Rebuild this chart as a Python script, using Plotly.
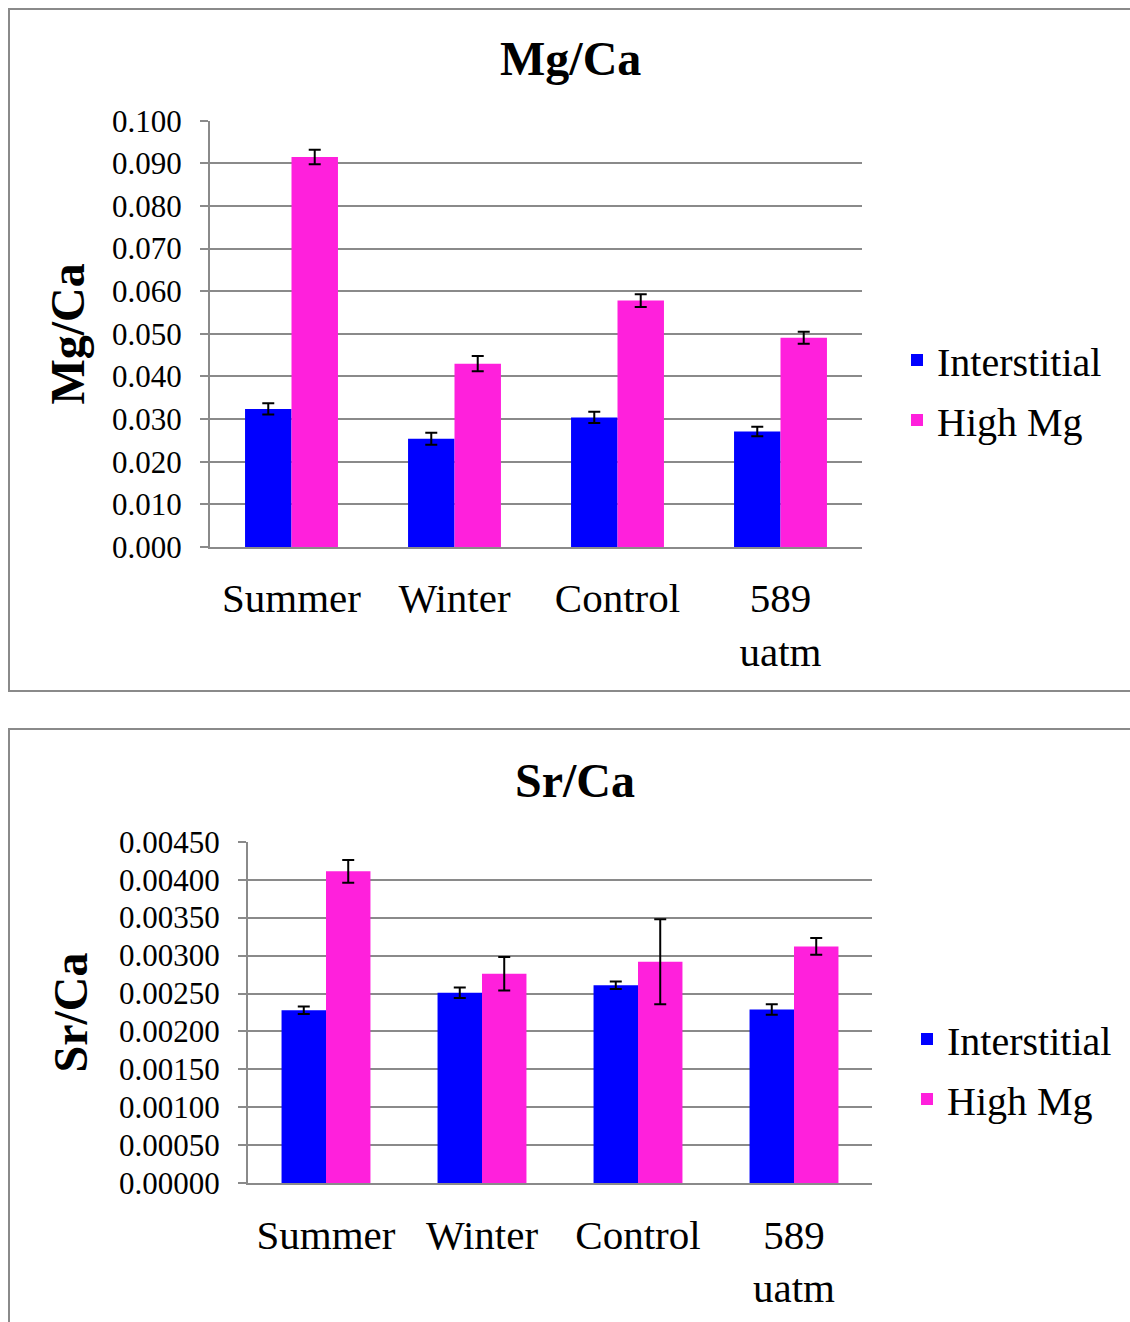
import plotly.graph_objects as go

categories = ["Summer", "Winter", "Control", "589<br>uatm"]
series_names = ["Interstitial", "High Mg"]

mg_interstitial = [0.0324, 0.0254, 0.0304, 0.0271]
mg_interstitial_err = [0.0013, 0.0014, 0.0013, 0.0011]
mg_highmg = [0.0915, 0.0430, 0.0578, 0.0491]
mg_highmg_err = [0.0017, 0.0018, 0.0015, 0.0014]

sr_interstitial = [0.00228, 0.00251, 0.00261, 0.00229]
sr_interstitial_err = [0.00005, 0.00007, 0.00005, 0.00007]
sr_highmg = [0.00411, 0.00276, 0.00292, 0.00312]
sr_highmg_err = [0.00015, 0.00022, 0.00056, 0.00011]

BLUE = "#0000FF"
MAGENTA = "#FF20DC"
GRID = "#8a8a8a"
FONT = "Liberation Serif, DejaVu Serif, serif"

W, H = 1130, 1322

def px_x(v):
    return v / W

def px_y(v):
    return (H - v) / H

fig = go.Figure()

def add_pair(vals1, err1, vals2, err2, xa, ya, legend, group_suffix):
    for name, vals, err, color in [(series_names[0], vals1, err1, BLUE),
                                   (series_names[1], vals2, err2, MAGENTA)]:
        fig.add_trace(go.Bar(
            x=categories, y=vals, name=name,
            marker=dict(color=color, line=dict(width=0)),
            error_y=dict(type="data", array=err, visible=True,
                         color="black", thickness=2, width=6),
            xaxis=xa, yaxis=ya, legend=legend,
            legendgroup=name + group_suffix,
        ))

add_pair(mg_interstitial, mg_interstitial_err, mg_highmg, mg_highmg_err, "x", "y", "legend", "a")
add_pair(sr_interstitial, sr_interstitial_err, sr_highmg, sr_highmg_err, "x2", "y2", "legend2", "b")

tickfont = dict(family=FONT, size=31, color="black")
xtickfont = dict(family=FONT, size=41, color="black")
titlefont = dict(family=FONT, size=48, color="black", weight="bold")

xcommon = dict(type="category", showgrid=False, ticks="", showline=True,
               linecolor=GRID, linewidth=2, tickfont=xtickfont,
               ticklabelstandoff=14, fixedrange=True, automargin=False)
ycommon = dict(showgrid=True, gridcolor=GRID, gridwidth=2, zeroline=False,
               showline=True, linecolor=GRID, linewidth=2,
               ticks="outside", ticklen=8, tickcolor=GRID, tickwidth=2,
               tickfont=tickfont, ticklabelstandoff=12, fixedrange=True,
               automargin=False)

legend_common = dict(font=dict(family=FONT, size=40, color="black"),
                     bgcolor="rgba(0,0,0,0)", traceorder="grouped",
                     tracegroupgap=5, xanchor="left", yanchor="middle")

fig.update_layout(
    width=W, height=H,
    margin=dict(l=0, r=0, t=0, b=0, autoexpand=False),
    paper_bgcolor="white", plot_bgcolor="white",
    barmode="group", bargap=0.43, bargroupgap=0,
    showlegend=True,
    xaxis=dict(domain=[px_x(210), px_x(862)], anchor="y", **xcommon),
    yaxis=dict(domain=[px_y(547), px_y(120.7)], anchor="x", range=[0, 0.1],
               dtick=0.01, tickformat=".3f",
               title=dict(text="<b>Mg/Ca</b>", font=titlefont, standoff=12),
               **ycommon),
    xaxis2=dict(domain=[px_x(248), px_x(872)], anchor="y2", **xcommon),
    yaxis2=dict(domain=[px_y(1183.3), px_y(841.7)], anchor="x2", range=[0, 0.0045],
                dtick=0.0005, tickformat=".5f",
                title=dict(text="<b>Sr/Ca</b>", font=titlefont, standoff=16),
                **ycommon),
    legend=dict(x=px_x(897), y=px_y(390), **legend_common),
    legend2=dict(x=px_x(907), y=px_y(1069), **legend_common),
    annotations=[
        dict(text="<b>Mg/Ca</b>", x=px_x(570), y=px_y(59), xref="paper", yref="paper",
             showarrow=False, font=titlefont, xanchor="center", yanchor="middle"),
        dict(text="<b>Sr/Ca</b>", x=px_x(575), y=px_y(780), xref="paper", yref="paper",
             showarrow=False, font=titlefont, xanchor="center", yanchor="middle"),
    ],
    shapes=[
        dict(type="rect", xref="paper", yref="paper",
             x0=px_x(9), x1=1.02, y0=px_y(691), y1=px_y(9),
             line=dict(color=GRID, width=2), layer="below"),
        dict(type="rect", xref="paper", yref="paper",
             x0=px_x(9), x1=1.02, y0=-0.05, y1=px_y(729),
             line=dict(color=GRID, width=2), layer="below"),
    ],
)

# place the figure at the top-left corner of the page, without the default body margin
post_js = (
    "document.body.style.margin='0';"
    "document.body.style.overflow='hidden';"
    "var d=document.getElementById('{plot_id}');"
    "d.style.position='fixed';d.style.left='0px';d.style.top='0px';"
)

fig.write_html("out.html", post_script=post_js, config={"displayModeBar": False})
